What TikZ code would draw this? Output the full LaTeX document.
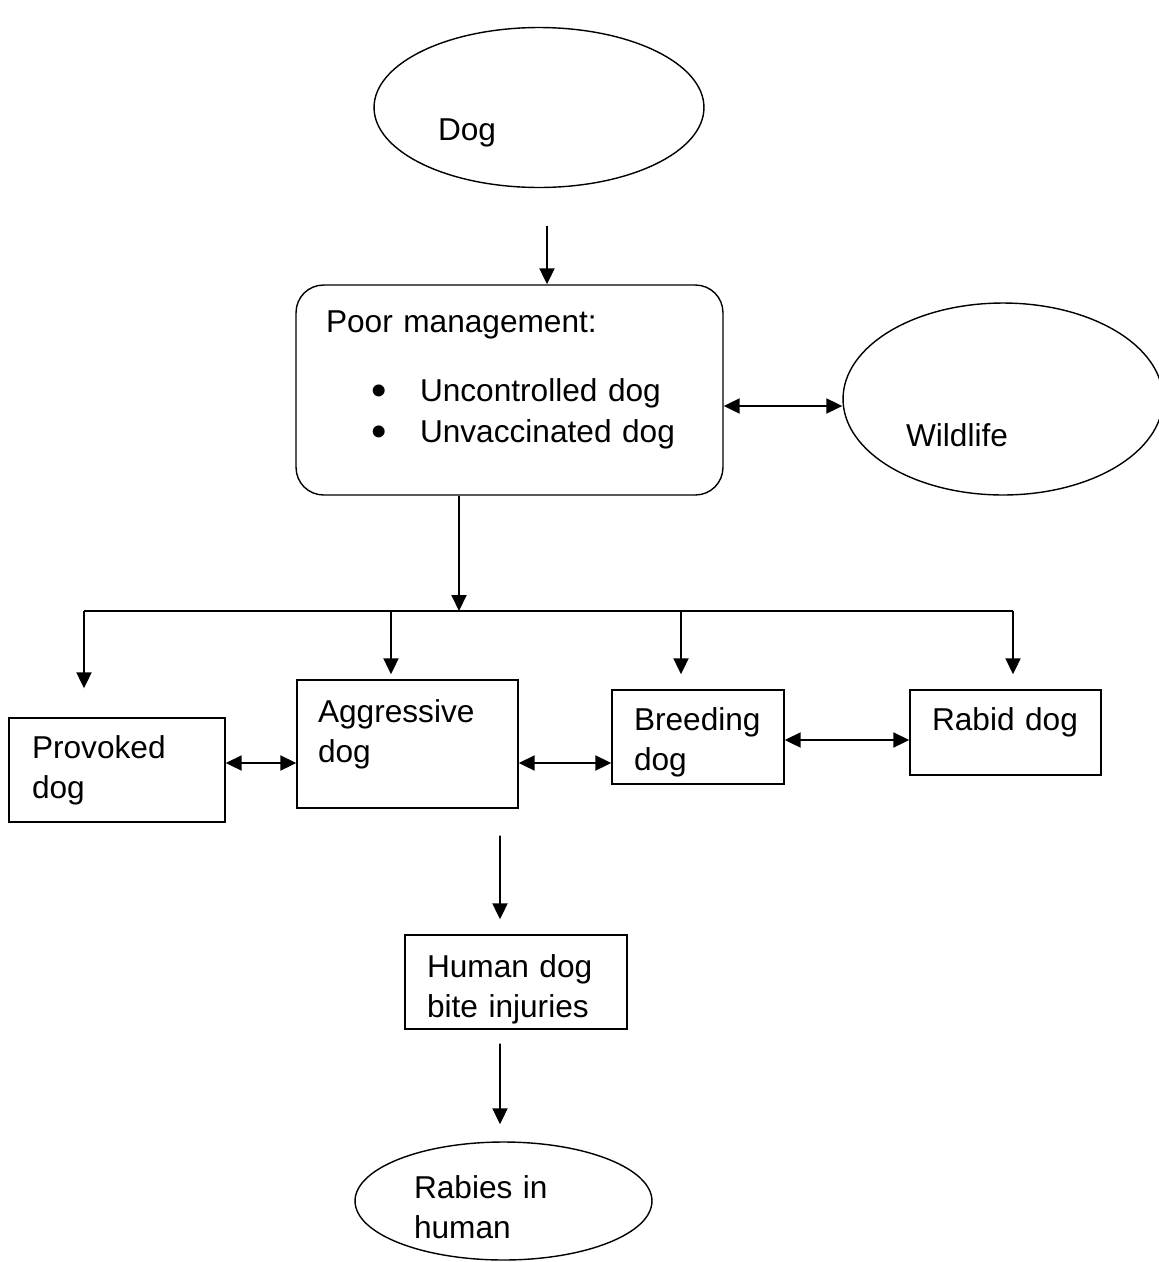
\documentclass[tikz,border=0pt]{standalone}
\usepackage{fontspec}
\setmainfont{Liberation Sans}
\usepackage{tikz}
\usetikzlibrary{positioning,shapes.geometric,arrows.meta,calc}

\newcommand{\bigdot}{\makebox[0.98cm][l]{\raisebox{-0.07cm}{\fontsize{25}{23.3}\selectfont\textbullet}}}

\begin{document}
\begin{tikzpicture}[
    x=0.02cm, y=-0.02cm,
    font=\fontsize{18}{23.3}\selectfont,
    oval/.style={ellipse, draw, line width=0.8pt, inner sep=0pt, align=left},
    box/.style={rectangle, draw, line width=0.8pt, inner ysep=0pt, align=left},
    line/.style={draw, line width=1.1pt},
    link/.style={line, -{Triangle[length=0.32cm,width=0.3cm]}},
    both/.style={line, {Triangle[length=0.32cm,width=0.3cm]}-{Triangle[length=0.32cm,width=0.3cm]}}
]
    \useasboundingbox (0,0) rectangle (1159,1262);

    % top part
    \node [oval, minimum width=6.6cm, minimum height=3.2cm, text width=4.04cm, text height=1.54cm, text depth=0.2cm] (dog) at (539,107.5) {Dog};
    \node [box, rounded corners=0.55cm, inner xsep=0.6cm, text width=7.34cm, text height=0.94cm, text depth=3.26cm] (poor) at (509.5,390)
        {Poor management:\\[0.58cm]
         \hspace*{0.9cm}\bigdot Uncontrolled dog\\
         \hspace*{0.9cm}\bigdot Unvaccinated dog};
    \node [oval, minimum width=6.4cm, minimum height=3.84cm, text width=3.88cm, text height=2.08cm, text depth=0.2cm] (wild) at (1003,399) {Wildlife};

    % middle row
    \node [box, inner xsep=0.46cm, text width=3.4cm, text height=0.8cm, text depth=1.28cm] (prov) at (117,770) {Provoked\\dog};
    \node [box, inner xsep=0.42cm, text width=3.58cm, text height=0.84cm, text depth=1.72cm] (aggr) at (407.5,744) {Aggressive\\dog};
    \node [box, inner xsep=0.44cm, text width=2.56cm, text height=0.8cm, text depth=1.08cm] (breed) at (698,737) {Breeding\\dog};
    \node [box, inner xsep=0.44cm, text width=2.94cm, text height=0.8cm, text depth=0.9cm] (rabid) at (1005.5,732.5) {Rabid dog};

    % bottom part
    \node [box, inner xsep=0.44cm, text width=3.56cm, text height=0.84cm, text depth=1.04cm] (human) at (516,982) {Human dog\\bite injuries};
    \node [oval, minimum width=5.94cm, minimum height=2.36cm, text width=3.58cm, text height=0.48cm, text depth=0.6cm] (rabies) at (503.5,1201) {Rabies in\\human};

    % connectors
    \coordinate (d1) at ([shift={(0.16cm,-0.75cm)}]dog.south);
    \coordinate (bus) at (459,611);
    \coordinate (b1) at (84,611);
    \coordinate (b2) at (391,611);
    \coordinate (b3) at (681,611);
    \coordinate (b4) at (1013,611);

    \path [link] (d1) -- (d1 |- poor.north);
    \path [both] ([yshift=-0.32cm]poor.east) -- ([yshift=-0.14cm]wild.west);
    \path [link] (poor.south -| bus) -- (bus);
    \path [line] (b1) -- (b4);
    \path [link, shorten >=0.58cm] (b1) -- (b1 |- prov.north);
    \path [link, shorten >=0.1cm] (b2) -- (b2 |- aggr.north);
    \path [link, shorten >=0.3cm] (b3) -- (b3 |- breed.north);
    \path [link, shorten >=0.3cm] (b4) -- (b4 |- rabid.north);
    \path [both] ([yshift=0.14cm]prov.east) -- ([yshift=-0.38cm]aggr.west);
    \path [both] ([yshift=-0.38cm]aggr.east) -- ([yshift=-0.52cm]breed.west);
    \path [both] ([yshift=-0.06cm]breed.east) -- ([yshift=-0.15cm]rabid.west);
    \path [link, shorten <=0.54cm, shorten >=0.3cm] ([xshift=1.85cm]aggr.south) -- ([xshift=-0.32cm]human.north);
    \path [link, shorten <=0.28cm, shorten >=0.34cm] ([xshift=-0.32cm]human.south) -- ([xshift=-0.07cm]rabies.north);
\end{tikzpicture}
\end{document}
